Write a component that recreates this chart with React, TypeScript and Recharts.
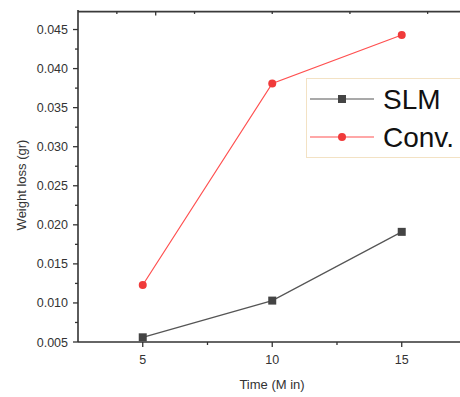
import { LineChart, Line, XAxis, YAxis, ReferenceLine } from "recharts"

const times = [5, 10, 15]
const slm = [0.0056, 0.0103, 0.0191]
const conv = [0.0123, 0.0381, 0.0443]

const yTicks = [0.005, 0.01, 0.015, 0.02, 0.025, 0.03, 0.035, 0.04, 0.045]
const yMinor = [0.0075, 0.0125, 0.0175, 0.0225, 0.0275, 0.0325, 0.0375, 0.0425]
const xTicks = [5, 10, 15]
const xMinor = [7.5, 12.5]
const topTicks = [4, 5.5, 7, 10, 13, 16]

const data = times.map((t, i) => ({ time: t, SLM: slm[i], Conv: conv[i] }))

const FONT = "'Liberation Sans', Arial, sans-serif"
const AXIS = "#333"
const X_DOMAIN = [2.5, 17.25]
const Y_DOMAIN = [0.005, 0.0475]
const Y_TOP = Y_DOMAIN[1] - 0.0002

function YTick({ x, y, payload }: any) {
    const major = yTicks.some((v) => Math.abs(v - payload.value) < 1e-6)
    return (
        <g>
            <line x1={x - (major ? 5 : 3)} x2={x} y1={y} y2={y} stroke={AXIS} strokeWidth={1.3} />
            {major && (
                <text x={x - 10} y={y} dy={4.5} textAnchor="end" fontSize={12.5} fill="#333" fontFamily={FONT}>
                    {payload.value.toFixed(3)}
                </text>
            )}
        </g>
    )
}

function XTick({ x, y, payload }: any) {
    const major = xTicks.includes(payload.value)
    return (
        <g>
            <line x1={x} x2={x} y1={y} y2={y + (major ? 5 : 3)} stroke={AXIS} strokeWidth={1.3} />
            {major && (
                <text x={x} y={y + 18} dy={4} textAnchor="middle" fontSize={12.5} fill="#333" fontFamily={FONT}>
                    {payload.value}
                </text>
            )}
        </g>
    )
}

function SquareDot({ cx, cy }: any) {
    return <rect x={cx - 4} y={cy - 4} width={8} height={8} fill="#444" />
}

function RoundDot({ cx, cy }: any) {
    return <circle cx={cx} cy={cy} r={4} fill="#f03a3a" />
}

function LegendBox() {
    const rows = [
        { name: "SLM", color: "#555", marker: "square", y: 20 },
        { name: "Conv.", color: "#ff5050", marker: "circle", y: 58 },
    ]
    return (
        <div style={{ position: "absolute", left: 306, top: 78, border: "1px solid #f3e2c4", width: 170, height: 78, background: "#fff" }}>
            <svg width={170} height={78} style={{ display: "block" }}>
                {rows.map((r) => (
                    <g key={r.name}>
                        <line x1={3} x2={67} y1={r.y} y2={r.y} stroke={r.color} strokeWidth={1.2} />
                        {r.marker === "square" ? (
                            <rect x={31} y={r.y - 4} width={8} height={8} fill="#444" />
                        ) : (
                            <circle cx={35} cy={r.y} r={4} fill="#f03a3a" />
                        )}
                        <text x={76} y={r.y} dy={10} fontSize={28} fill="#111" fontFamily={FONT}>
                            {r.name}
                        </text>
                    </g>
                ))}
            </svg>
        </div>
    )
}

export default function App() {
    return (
        <div style={{ position: "absolute", left: 0, top: 0, width: 460, height: 397, overflow: "hidden", background: "#fff" }}>
            <LineChart
                width={460}
                height={397}
                data={data}
                margin={{ top: 10, right: 0, bottom: 15, left: 8 }}
            >
                <XAxis
                    dataKey="time"
                    type="number"
                    domain={X_DOMAIN}
                    ticks={[...xTicks, ...xMinor]}
                    tick={<XTick />}
                    tickSize={0}
                    tickMargin={0}
                    tickLine={false}
                    axisLine={{ stroke: AXIS, strokeWidth: 1.6 }}
                    height={40}
                    interval={0}
                    allowDataOverflow
                />
                <YAxis
                    type="number"
                    domain={Y_DOMAIN}
                    ticks={[...yTicks, ...yMinor]}
                    tick={<YTick />}
                    tickSize={0}
                    tickMargin={0}
                    tickLine={false}
                    axisLine={{ stroke: AXIS, strokeWidth: 1.6 }}
                    width={70}
                    interval={0}
                    allowDataOverflow
                />
                <ReferenceLine y={Y_TOP} stroke="#3a3a3a" strokeWidth={1.8} ifOverflow="visible" />
                {topTicks.map((t) => (
                    <ReferenceLine
                        key={t}
                        segment={[{ x: t, y: Y_TOP }, { x: t, y: Y_TOP - (t === 5.5 ? 0.0005 : 0.0003) }]}
                        stroke={AXIS}
                        strokeWidth={1.3}
                    />
                ))}
                <Line
                    dataKey="SLM"
                    stroke="#555"
                    strokeWidth={1.2}
                    dot={<SquareDot />}
                    isAnimationActive={false}
                />
                <Line
                    dataKey="Conv"
                    stroke="#ff5050"
                    strokeWidth={1.2}
                    dot={<RoundDot />}
                    isAnimationActive={false}
                />
                <text x={22} y={185} transform="rotate(-90 22 185)" textAnchor="middle" dy={4} fontSize={13} fill="#333" fontFamily={FONT}>
                    Weight loss (gr)
                </text>
                <text x={272} y={385} textAnchor="middle" dy={4} fontSize={13} fill="#333" fontFamily={FONT}>
                    Time (M in)
                </text>
            </LineChart>
            <LegendBox />
        </div>
    )
}
